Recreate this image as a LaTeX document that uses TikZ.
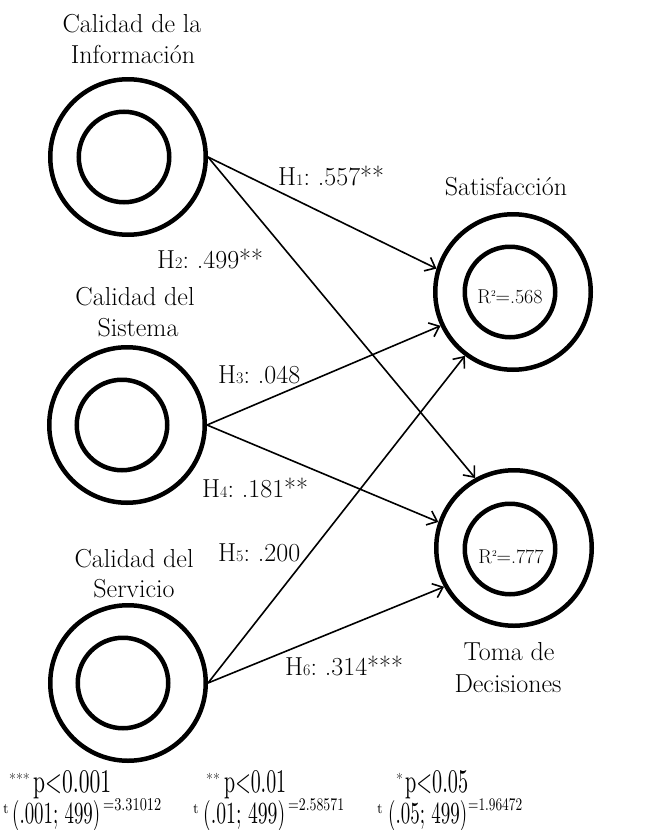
\documentclass[tikz,border=0pt]{standalone}
\usepackage{graphicx}
\usetikzlibrary{arrows.meta}
\frenchspacing
\tikzset{
  outerc/.style={circle, draw, line width=4.5pt, minimum size=155.5pt, inner sep=0pt},
  innerc/.style={circle, draw, line width=4.5pt, minimum size=90.5pt, inner sep=0pt},
  lbl/.style={font=\fontsize{26}{30}\selectfont, inner sep=0pt, anchor=base},
  hl/.style={font=\fontsize{26}{30}\selectfont, inner sep=0pt, anchor=base west},
  rsq/.style={font=\fontsize{20}{24}\selectfont, inner sep=0pt, anchor=base},
  bt/.style={inner sep=0pt, anchor=base west},
  star/.style={inner sep=0pt, anchor=base west, font=\fontsize{15}{15}\selectfont},
  hyp/.style={line width=1.6pt, -{Straight Barb[length=9pt,width=15pt,line width=1.6pt]}},
}
\newcommand{\sbs}[1]{{\fontsize{16}{16}\selectfont #1}}
\newcommand{\rtwo}{R\raisebox{7pt}{\fontsize{9}{9}\selectfont 2}}
\begin{document}
\begin{tikzpicture}[x=1pt,y=-1pt]
\useasboundingbox (0,0) rectangle (652,830);
% circles
\node[outerc] (c1) at (128,157) {};
\node[innerc] (c1i) at (124,157) {};
\node[outerc] (c2) at (127,425) {};
\node[innerc] (c2i) at (122,425) {};
\node[outerc] (c3) at (128,683) {};
\node[innerc] (c3i) at (123,683) {};
\node[outerc] (sat) at (513,292) {};
\node[innerc] (sati) at (510,292) {};
\node[outerc] (tom) at (514,548) {};
\node[innerc] (tomi) at (510,549) {};
% labels
\node[lbl] (l1a) at (132,32) {Calidad de la};
\node[lbl] (l1b) at (133,63) {Información};
\node[lbl] (l2a) at (135,305) {Calidad del};
\node[lbl] (l2b) at (138,336) {Sistema};
\node[lbl] (l3a) at (134,567) {Calidad del};
\node[lbl] (l3b) at (134,597) {Servicio};
\node[lbl] (lsat) at (506,195) {Satisfacción};
\node[lbl] (lt1) at (509,660) {Toma de};
\node[lbl] (lt2) at (508,692) {Decisiones};
\node[rsq] (r1) at (510,303) {\rtwo=.568};
\node[rsq] (r2) at (511,563) {\rtwo=.777};
% arrows
\draw[hyp] (c1.east) -- (sat.163);
\draw[hyp] (c1.east) -- (tom.119);
\draw[hyp] (c2.east) -- (sat.205);
\draw[hyp] (c2.east) -- (tom.161);
\draw[hyp] (c3.east) -- (sat.233);
\draw[hyp] (c3.east) -- (tom.209);
% hypothesis labels
\node[hl] (h1) at (278,185) {H\sbs{1}: .557**};
\node[hl] (h2) at (157,268) {H\sbs{2}: .499**};
\node[hl] (h3) at (218,383) {H\sbs{3}: .048};
\node[hl] (h4) at (202,497) {H\sbs{4}: .181**};
\node[hl] (h5) at (218,561) {H\sbs{5}: .200};
\node[hl] (h6) at (285,675) {H\sbs{6}: .314***};
% bottom legend
\node[star] (s1) at (9,784) {***};
\node[bt] (p1) at (33,792) {\resizebox{78pt}{22pt}{p<0.001}};
\node[bt] (t1) at (3,813) {\resizebox{!}{9pt}{t}};
\node[bt] (q1) at (12,823) {\resizebox{88pt}{23pt}{(.001; 499)}};
\node[bt] (e1) at (103,810) {\resizebox{58pt}{12pt}{=3.31012}};
\node[star] (s2) at (206,784) {**};
\node[bt] (p2) at (224,792) {\resizebox{62pt}{22pt}{p<0.01}};
\node[bt] (t2) at (193,813) {\resizebox{!}{9pt}{t}};
\node[bt] (q2) at (203,823) {\resizebox{82pt}{23pt}{(.01; 499)}};
\node[bt] (e2) at (288,810) {\resizebox{56pt}{12pt}{=2.58571}};
\node[star] (s3) at (396,784) {*};
\node[bt] (p3) at (405,792) {\resizebox{63pt}{22pt}{p<0.05}};
\node[bt] (t3) at (377,813) {\resizebox{!}{9pt}{t}};
\node[bt] (q3) at (388,823) {\resizebox{79pt}{23pt}{(.05; 499)}};
\node[bt] (e3) at (468,810) {\resizebox{54pt}{12pt}{=1.96472}};
\end{tikzpicture}
\end{document}
